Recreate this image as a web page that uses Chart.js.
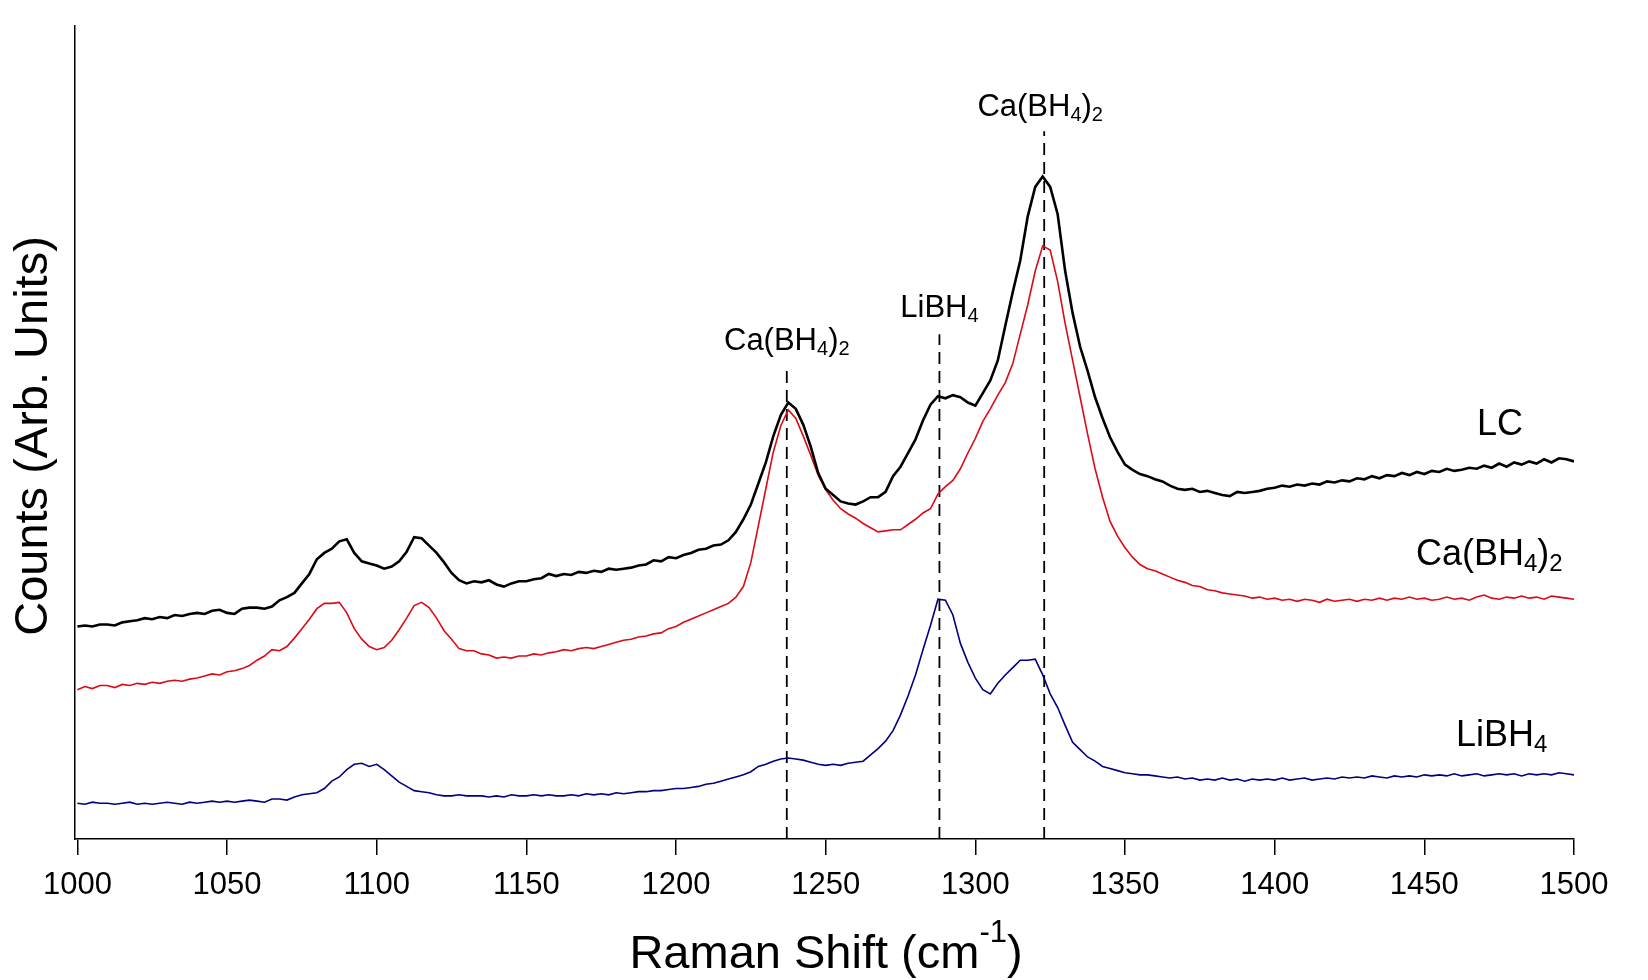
<!DOCTYPE html>
<html><head><meta charset="utf-8">
<script src="https://cdn.jsdelivr.net/npm/chart.js@4.4.1/dist/chart.umd.min.js"></script>
<style>html,body{margin:0;padding:0;background:#fff;}canvas{display:block}</style>
</head><body>
<canvas id="c" width="1648" height="980" style="width:1648px;height:980px"></canvas>
<script>
// Raman shift (cm-1)
const ramanShift = [
1000,1002.5,1005,1007.5,1010,1012.5,1015,1017.5,1020,1022.5,
1025,1027.5,1030,1032.5,1035,1037.5,1040,1042.5,1045,1047.5,
1050,1052.5,1055,1057.5,1060,1062.5,1065,1067.5,1070,1072.5,
1075,1077.5,1080,1082.5,1085,1087.5,1090,1092.5,1095,1097.5,
1100,1102.5,1105,1107.5,1110,1112.5,1115,1117.5,1120,1122.5,
1125,1127.5,1130,1132.5,1135,1137.5,1140,1142.5,1145,1147.5,
1150,1152.5,1155,1157.5,1160,1162.5,1165,1167.5,1170,1172.5,
1175,1177.5,1180,1182.5,1185,1187.5,1190,1192.5,1195,1197.5,
1200,1202.5,1205,1207.5,1210,1212.5,1215,1217.5,1220,1222.5,
1225,1227.5,1230,1232.5,1235,1237.5,1240,1242.5,1245,1247.5,
1250,1252.5,1255,1257.5,1260,1262.5,1265,1267.5,1270,1272.5,
1275,1277.5,1280,1282.5,1285,1287.5,1290,1292.5,1295,1297.5,
1300,1302.5,1305,1307.5,1310,1312.5,1315,1317.5,1320,1322.5,
1325,1327.5,1330,1332.5,1335,1337.5,1340,1342.5,1345,1347.5,
1350,1352.5,1355,1357.5,1360,1362.5,1365,1367.5,1370,1372.5,
1375,1377.5,1380,1382.5,1385,1387.5,1390,1392.5,1395,1397.5,
1400,1402.5,1405,1407.5,1410,1412.5,1415,1417.5,1420,1422.5,
1425,1427.5,1430,1432.5,1435,1437.5,1440,1442.5,1445,1447.5,
1450,1452.5,1455,1457.5,1460,1462.5,1465,1467.5,1470,1472.5,
1475,1477.5,1480,1482.5,1485,1487.5,1490,1492.5,1495,1497.5,
1500];

// Counts (arbitrary units, offset traces)
const countsLC = [
202,203,202,204,204,203,206,207,208,210,
209,211,210,213,212,214,215,214,217,218,
215,214,219,220,220,219,221,227,230,234,
243,252,266,272,276,283,285,272,264,262,
260,257,259,264,273,287,286,279,272,263,
253,246,243,245,244,246,242,240,243,245,
245,247,248,252,250,252,251,254,253,255,
254,257,256,257,258,260,261,265,264,268,
267,270,272,275,276,279,280,284,292,304,
318,338,358,383,403,415,409,394,373,348,
333,327,321,319,318,321,325,325,330,345,
354,367,380,398,413,421,419,422,420,415,
412,424,436,455,488,520,550,592,620,630,
620,594,540,500,468,445,420,400,382,368,
356,351,347,345,342,340,336,333,332,333,
330,331,329,327,326,330,329,330,331,333,
334,336,335,337,336,338,337,340,339,341,
340,343,342,345,343,346,345,348,346,349,
347,350,349,352,350,351,353,352,355,353,
357,354,358,356,359,357,361,358,362,361,
359];

const countsCaBH4 = [
142,145,143,146,146,144,147,146,148,147,
149,148,150,151,150,152,153,155,157,156,
159,160,162,165,170,174,180,179,183,191,
200,209,219,224,224,225,215,200,190,183,
180,182,189,199,210,222,225,220,210,198,
190,181,179,179,176,175,172,173,172,174,
174,176,175,177,178,180,179,181,182,181,
183,185,187,189,190,192,193,195,196,200,
202,206,209,212,215,218,221,224,230,240,
263,298,333,368,393,408,400,383,365,346,
332,322,314,309,305,300,296,292,293,294,
294,299,304,310,314,328,335,341,352,367,
381,397,409,422,434,452,480,508,540,564,
560,530,490,455,420,385,352,325,302,288,
277,268,261,257,255,252,249,246,244,241,
240,237,236,234,233,232,231,229,230,228,
229,227,228,226,228,227,225,228,226,227,
228,226,228,227,229,227,229,228,230,228,
229,227,228,230,228,229,227,230,232,229,
228,230,229,231,229,230,228,231,230,229,
228];

const countsLiBH4 = [
34,33,35,34,34,33,34,35,33,34,
33,34,35,34,33,35,34,35,36,35,
36,35,36,37,36,35,38,38,37,40,
42,43,44,48,55,59,66,71,72,69,
71,66,60,54,50,46,45,44,42,41,
41,42,41,41,41,40,41,40,42,41,
41,42,41,42,41,41,42,41,43,42,
43,42,44,43,44,45,45,46,46,47,
48,48,49,50,52,53,55,57,59,61,
64,69,71,74,76,77,76,75,73,71,
70,71,70,72,73,74,80,86,93,103,
118,136,156,180,203,228,227,213,186,168,
153,142,138,148,156,163,170,170,171,156,
138,125,108,92,85,78,74,69,67,65,
63,62,61,61,60,59,58,59,57,58,
56,57,56,58,56,57,55,57,56,57,
56,58,56,57,58,56,57,58,57,59,
58,59,58,60,59,58,60,59,60,59,
61,60,61,60,62,60,61,62,60,61,
62,61,62,60,62,61,62,61,63,62,
61];

const xTickValues = [1000,1050,1100,1150,1200,1250,1300,1350,1400,1450,1500];
const markerShifts = [1237, 1288, 1323];
const markerTops = [448, 480, 673];

const FONT = '"Liberation Sans", Arial, sans-serif';

function toXY(ys) { return ramanShift.map((x, i) => ({ x: x, y: ys[i] })); }

const markerSets = markerShifts.map((s, i) => ({
  data: [{ x: s, y: 0 }, { x: s, y: markerTops[i] }],
  borderColor: '#000', borderWidth: 1.8, borderDash: [12, 7],
  pointRadius: 0, fill: false, tension: 0
}));

function fontFor(size, kind) {
  const s = kind === 0 ? size : Math.round(size * 0.66);
  return s + 'px ' + FONT;
}
function drawRich(ctx, parts, x, y, size, align) {
  const widths = parts.map(([t, k]) => { ctx.font = fontFor(size, k); return ctx.measureText(t).width; });
  const total = widths.reduce((a, b) => a + b, 0);
  let cx = align === 'center' ? x - total / 2 : (align === 'right' ? x - total : x);
  ctx.textAlign = 'left';
  ctx.textBaseline = 'alphabetic';
  parts.forEach(([t, k], i) => {
    ctx.font = fontFor(size, k);
    const dy = k === 1 ? size * 0.17 : (k === 2 ? -size * 0.55 : 0);
    ctx.fillText(t, cx, y + dy);
    cx += widths[i];
  });
}
const CA = [['Ca(BH', 0], ['4', 1], [')', 0], ['2', 1]];
const LI = [['LiBH', 0], ['4', 1]];

const textPlugin = {
  id: 'texts',
  afterDraw(chart) {
    const ctx = chart.ctx;
    const xs = chart.scales.x;
    ctx.save();
    ctx.fillStyle = '#000';
    drawRich(ctx, CA, xs.getPixelForValue(markerShifts[2]) - 4, 116, 31, 'center');
    drawRich(ctx, LI, xs.getPixelForValue(markerShifts[1]), 317, 31, 'center');
    drawRich(ctx, CA, xs.getPixelForValue(markerShifts[0]), 350, 31, 'center');
    drawRich(ctx, [['LC', 0]], 1477, 435, 36, 'left');
    drawRich(ctx, CA, 1416, 565, 36, 'left');
    drawRich(ctx, LI, 1456, 746, 36, 'left');
    drawRich(ctx, [['Raman Shift (cm', 0], ['-1', 2], [')', 0]], 826, 968, 47, 'center');
    ctx.translate(47, 436);
    ctx.rotate(-Math.PI / 2);
    drawRich(ctx, [['Counts (Arb. Units)', 0]], 0, 0, 47, 'center');
    ctx.restore();
  }
};

new Chart(document.getElementById('c'), {
  type: 'line',
  data: {
    datasets: [
      { label: 'LC', data: toXY(countsLC), borderColor: '#000000', borderWidth: 2.6, pointRadius: 0, tension: 0, fill: false },
      { label: 'Ca(BH4)2', data: toXY(countsCaBH4), borderColor: '#dc0a14', borderWidth: 1.6, pointRadius: 0, tension: 0, fill: false },
      { label: 'LiBH4', data: toXY(countsLiBH4), borderColor: '#000080', borderWidth: 1.6, pointRadius: 0, tension: 0, fill: false },
      ...markerSets
    ]
  },
  options: {
    responsive: false,
    animation: false,
    devicePixelRatio: 1,
    layout: { padding: { left: 75, right: 74, top: 26, bottom: 0 } },
    plugins: { legend: { display: false }, tooltip: { enabled: false } },
    scales: {
      x: {
        type: 'linear', min: 999.2, max: 1500,
        afterBuildTicks: (s) => { s.ticks = xTickValues.map(v => ({ value: v })); },
        afterFit: (s) => { s.height = 141; },
        ticks: { font: { family: FONT, size: 31 }, color: '#000', padding: 12, maxRotation: 0, autoSkip: false,
                 callback: (v) => String(v) },
        grid: { display: true, drawOnChartArea: false, drawTicks: true, tickLength: 16, color: '#000', lineWidth: 1.5 },
        border: { display: true, color: '#000', width: 1.5 }
      },
      y: {
        min: 0, max: 773,
        afterFit: (s) => { s.width = 0; },
        ticks: { display: false },
        grid: { display: false, drawTicks: false },
        border: { display: true, color: '#000', width: 1.5 }
      }
    }
  },
  plugins: [textPlugin]
});
</script>
</body></html>
